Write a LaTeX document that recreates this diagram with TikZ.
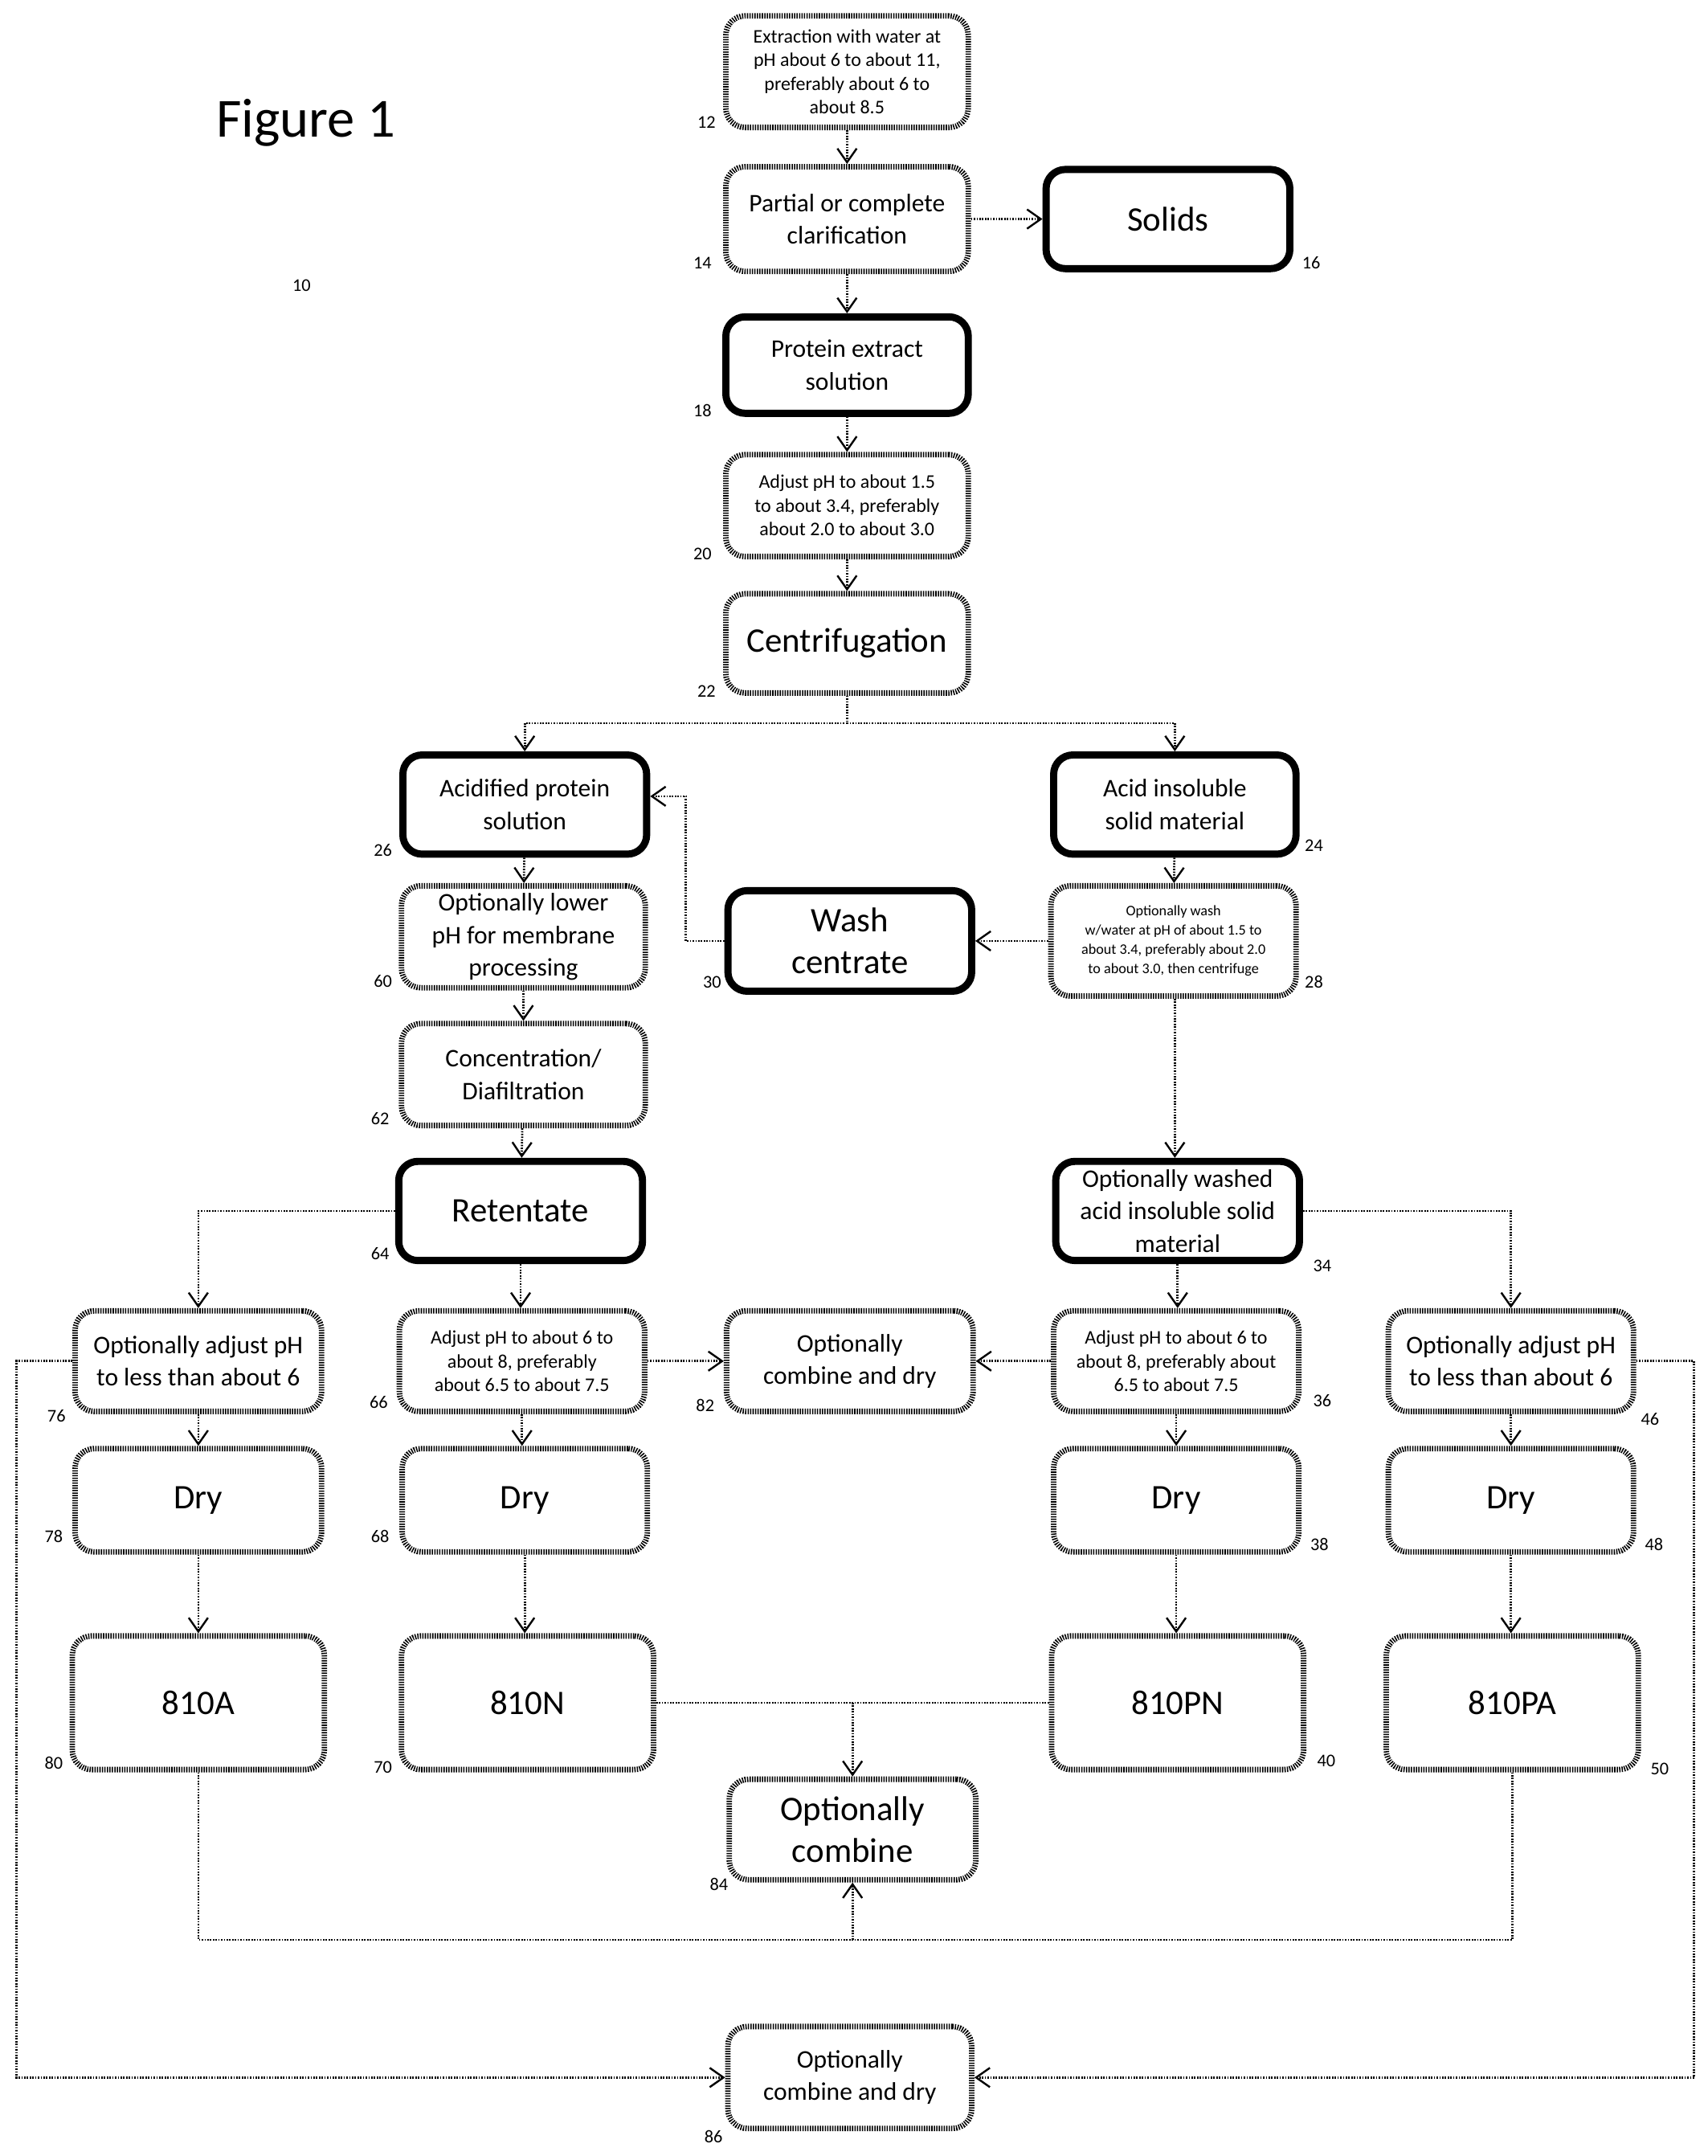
\documentclass[tikz,border=0pt]{standalone}
\usepackage{fontspec}
\setmainfont{Carlito}
\usetikzlibrary{arrows.meta}
\begin{document}
\begin{tikzpicture}[x=0.5pt,y=0.5pt,
 hb/.style={draw=black,line width=2pt,dash pattern=on 0.45pt off 0.45pt,rounded corners=7pt,align=center,inner sep=1pt},
 sb/.style={draw=black,line width=2.6pt,rounded corners=7pt,align=center,inner sep=1pt},
 conn/.style={line width=0.8pt,dash pattern=on 0.5pt off 0.5pt},
 arr/.style={conn,-{Straight Barb[length=5pt,width=7pt,line width=0.7pt]}},
 num/.style={font=\fontsize{6.5}{7}\selectfont,inner sep=0pt},
 ft/.style={font=\fontsize{5.3}{7}\selectfont},
 fs/.style={font=\fontsize{7}{8.6}\selectfont},
 fm/.style={font=\fontsize{9.2}{11.8}\selectfont},
 fl/.style={font=\fontsize{12.5}{15}\selectfont}]
\useasboundingbox (0,0) rectangle (1240,-1565);
\newcommand\bx[7]{\node[#6,minimum width=#4*0.5pt,minimum height=#5*0.5pt] (#1) at (#2,-#3) {#7};}
\node[font=\fontsize{20}{24}\selectfont] (fig) at (222,-89) {Figure 1};
\bx{n12}{615}{52}{176}{81}{hb,fs}{Extraction with water at\\pH about 6 to about 11,\\preferably about 6 to\\about 8.5}
\bx{n14}{615}{159}{176}{76}{hb,fm}{Partial or complete\\clarification}
\bx{n16}{848}{159}{177}{72}{sb,fl}{Solids}
\bx{n18}{615}{265}{176}{70}{sb,fm}{Protein extract\\solution}
\bx{n20}{615}{367}{176}{74}{hb,fs}{Adjust pH to about 1.5\\to about 3.4, preferably\\about 2.0 to about 3.0}
\bx{n22}{615}{467}{176}{72}{hb,fl}{Centrifugation}
\bx{n26}{381}{584}{177}{72}{sb,fm}{Acidified protein\\solution}
\bx{n24}{853}{584}{176}{72}{sb,fm}{Acid insoluble\\solid material}
\bx{n60}{380}{680}{177}{74}{hb,fm}{Optionally lower\\pH for membrane\\processing}
\bx{n30}{617}{683}{177}{73}{sb,fl}{Wash\\centrate}
\bx{n28}{852}{683}{178}{80}{hb,ft}{Optionally wash\\w/water at pH of about 1.5 to\\about 3.4, preferably about 2.0\\to about 3.0, then centrifuge}
\bx{n62}{380}{780}{177}{74}{hb,fm}{Concentration/\\Diafiltration}
\bx{n64}{378}{879}{177}{72}{sb,fl}{Retentate}
\bx{n34}{855}{879}{177}{72}{sb,fm}{Optionally washed\\acid insoluble solid\\material}
\bx{n76}{144}{988}{179}{73}{hb,fm}{Optionally adjust pH\\to less than about 6}
\bx{n66}{379}{988}{178}{73}{hb,fs}{Adjust pH to about 6 to\\about 8, preferably\\about 6.5 to about 7.5}
\bx{n82}{617}{988}{179}{73}{hb,fm}{Optionally\\combine and dry}
\bx{n36}{854}{988}{178}{73}{hb,fs}{Adjust pH to about 6 to\\about 8, preferably about\\6.5 to about 7.5}
\bx{n46}{1097}{988}{178}{73}{hb,fm}{Optionally adjust pH\\to less than about 6}
\bx{n78}{144}{1089}{179}{75}{hb,fl}{Dry}
\bx{n68}{381}{1089}{178}{75}{hb,fl}{Dry}
\bx{n38}{854}{1089}{178}{75}{hb,fl}{Dry}
\bx{n48}{1097}{1089}{178}{75}{hb,fl}{Dry}
\bx{n80}{144}{1236}{183}{97}{hb,fl}{810A}
\bx{n70}{383}{1236}{183}{97}{hb,fl}{810N}
\bx{n40}{855}{1236}{183}{97}{hb,fl}{810PN}
\bx{n50}{1098}{1236}{183}{97}{hb,fl}{810PA}
\bx{n84}{619}{1328}{179}{73}{hb,fl}{Optionally\\combine}
\bx{n86}{617}{1508}{177}{74}{hb,fm}{Optionally\\combine and dry}
% numbers
\foreach \t/\x/\y in {12/513/89,14/510/191,16/952/191,18/510/298,20/510/402,22/513/502,26/278/617,24/954/614,60/278/712,30/517/713,28/954/713,62/276/812,64/276/910,34/960/919,76/41/1028,66/275/1018,82/512/1020,36/960/1017,46/1198/1030,78/39/1115,68/276/1115,38/958/1121,48/1201/1121,80/39/1280,70/278/1283,40/963/1278,50/1205/1284,84/522/1368,86/518/1551,10/219/207}
  \node[num] (l\t) at (\x,-\y) {\t};
% connectors
\draw[arr] (n12) -- (n14);
\draw[arr] (n14) -- (n16);
\draw[arr] (n14) -- (n18);
\draw[arr] (n18) -- (n20);
\draw[arr] (n20) -- (n22);
\coordinate (s1) at (615,-525);
\draw[conn] (n22) -- (s1);
\draw[arr] (s1) -| (n26.north);
\draw[arr] (s1) -| (n24.north);
\draw[arr] (n24) -- (n28);
\draw[arr] (n28) -- (n30);
\coordinate (w1) at (498,-683);
\draw[arr] (n30.west) -- (w1) |- (n26.east |- 0,-578);
\draw[arr] (n26) -- (n60);
\draw[arr] (n60) -- (n62);
\draw[arr] (n62) -- (n64);
\draw[arr] (n28.south -| n24) -- (n34.north -| n24);
\draw[arr] (n64.west) -| (n76.north);
\draw[arr] (n64) -- (n64 |- n66.north);
\draw[arr] (n34.east) -| (n46.north);
\draw[arr] (n34) -- (n34 |- n36.north);
\draw[arr] (n66) -- (n82);
\draw[arr] (n36) -- (n82);
\draw[arr] (n76) -- (n78);
\draw[arr] (n66) -- (n66 |- n68.north);
\draw[arr] (n36) -- (n38);
\draw[arr] (n46) -- (n48);
\draw[arr] (n78) -- (n80);
\draw[arr] (n68) -- (n68 |- n70.north);
\draw[arr] (n38) -- (n38 |- n40.north);
\draw[arr] (n48) -- (n48 |- n50.north);
\coordinate (c1) at (619,-1236);
\draw[conn] (n70) -- (n40);
\draw[arr] (c1) -- (n84);
\coordinate (b1) at (144,-1408);
\coordinate (b2) at (1098,-1408);
\coordinate (b3) at (619,-1408);
\draw[conn] (n80) -- (b1) -- (b2) -- (n50);
\draw[arr] (b3) -- (n84);
\coordinate (d1) at (12,-988);
\coordinate (d2) at (1230,-988);
\draw[arr] (n76.west) -- (d1) |- (n86.west);
\draw[arr] (n46.east) -- (d2) |- (n86.east);
\end{tikzpicture}
\end{document}
